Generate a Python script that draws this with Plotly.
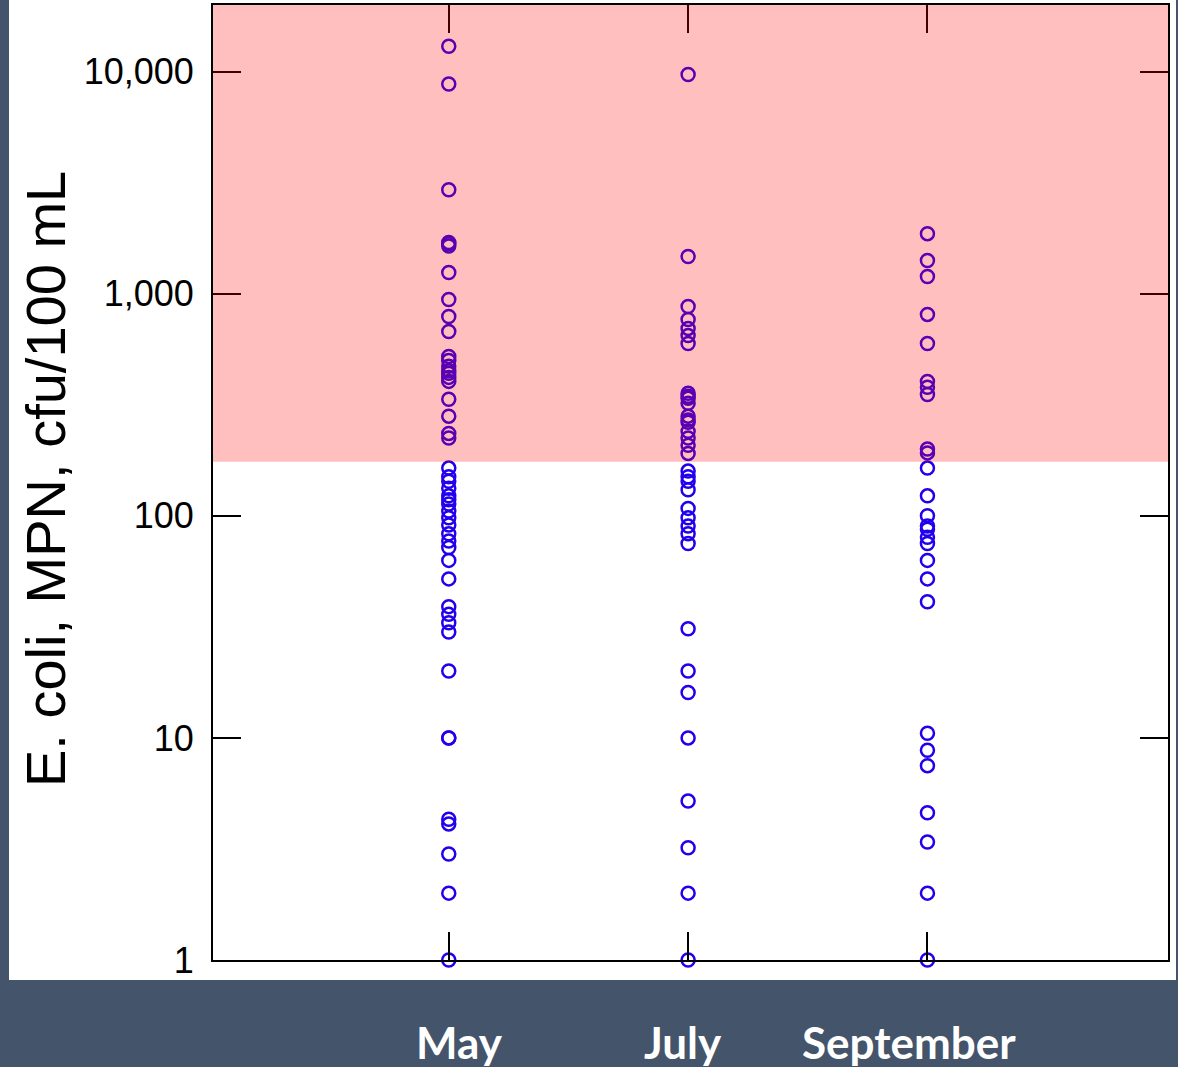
import plotly.graph_objects as go

# ---- data ----
months = ["May", "July", "September"]
month_pos = [1, 2, 3]

may_vals = [13000, 8800, 2940, 1640, 1680, 1700, 1245, 942, 790, 676,
            522, 500, 471, 450, 438, 420, 403, 335, 281, 235, 224,
            164, 150, 143, 133, 123, 118, 113, 105, 98, 91, 83, 77, 72, 63, 52,
            39, 36, 33, 30, 20, 10, 10, 4.1, 4.3, 3, 2, 1]
july_vals = [9700, 1470, 876, 766, 698, 649, 597,
             356, 345, 338, 321, 281, 270, 264, 240, 224, 208, 191,
             159, 150, 143, 131, 108, 98, 90, 83, 75,
             31, 20, 16, 10, 5.2, 3.2, 2, 1]
sep_vals = [1864, 1410, 1195, 807, 597, 403, 379, 352, 200, 192,
            164, 123, 100, 90, 87, 80, 75, 63, 52, 41,
            10.5, 8.8, 7.5, 4.6, 3.4, 2, 1]

threshold = 175
y_top = 10 ** 4.3
ytick_vals = [1, 10, 100, 1000, 10000]
ytick_text = ["1", "10", "100", "1,000", "10,000"]
y_title = "E. coli, MPN, cfu/100 mL"

fig = go.Figure()
for pos, vals in zip(month_pos, [may_vals, july_vals, sep_vals]):
    fig.add_trace(go.Scatter(
        x=[pos] * len(vals), y=vals, mode="markers",
        marker=dict(symbol="circle-open", size=13, color="#2200EE",
                    line=dict(width=2.5, color="#2200EE")),
        cliponaxis=False, showlegend=False, hoverinfo="y"))

W, H = 1178, 1067
L, R, T, B = 213, 10, 3, 107
pw, ph = W - L - R, H - T - B

def px_x(p):
    return (p - L) / pw

def px_y(p):
    return (H - B - p) / ph

# white panel behind the plot
fig.add_shape(type="rect", xref="paper", yref="paper",
              x0=px_x(9), x1=px_x(1176), y0=px_y(980), y1=px_y(-2),
              fillcolor="white", line=dict(width=0), layer="below")
# translucent red exceedance band
fig.add_shape(type="rect", xref="paper", yref="y",
              x0=0, x1=1, y0=threshold, y1=y_top,
              fillcolor="red", opacity=0.25, line=dict(width=0), layer="above")

# month labels in the dark band
for m, xc in zip(months, [459, 683, 909]):
    fig.add_annotation(text="<b>" + m + "</b>", xref="paper", yref="paper",
                       x=px_x(xc), y=px_y(1042), showarrow=False,
                       xanchor="center", yanchor="middle",
                       font=dict(family="Lato, Open Sans, sans-serif", size=44, color="white"))

fig.add_annotation(text=y_title, xref="paper", yref="paper",
                   x=px_x(45), y=px_y(478), textangle=-90, showarrow=False,
                   xanchor="center", yanchor="middle",
                   font=dict(family="Liberation Sans, Arial, sans-serif", size=56, color="black"))

fig.update_layout(
    width=W, height=H,
    margin=dict(l=L, r=R, t=T, b=B, pad=0),
    paper_bgcolor="#44546A", plot_bgcolor="white",
    xaxis=dict(range=[0.015, 4.005], tickvals=month_pos, showticklabels=False,
               ticks="inside", ticklen=28, tickwidth=2, tickcolor="black",
               showline=True, linewidth=2, linecolor="black", mirror="ticks",
               showgrid=False, zeroline=False, fixedrange=True),
    yaxis=dict(type="log", range=[0, 4.3], tickvals=ytick_vals, ticktext=ytick_text,
               ticks="inside", ticklen=28, tickwidth=2, tickcolor="black",
               showline=True, linewidth=2, linecolor="black", mirror="ticks",
               showgrid=False, zeroline=False, ticklabelstandoff=10,
               tickfont=dict(family="Liberation Sans, Arial, sans-serif", size=36, color="black")),
)

fig.write_html("out.html", config={"displayModeBar": False},
               post_script="document.body.style.margin='0';document.body.style.overflow='hidden';document.body.style.background='#44546A';")
